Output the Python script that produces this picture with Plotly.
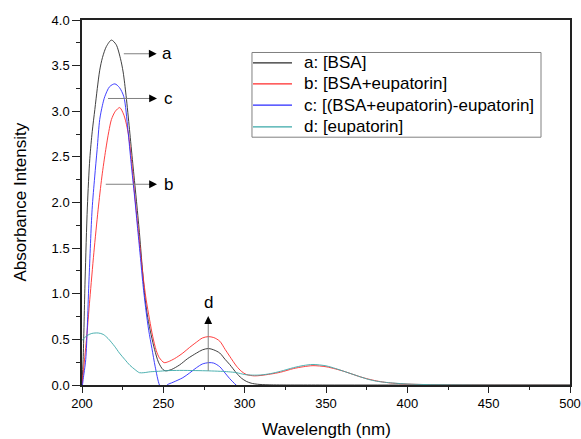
import plotly.graph_objects as go

# UV-Vis absorbance spectra (wavelength in nm, absorbance)
wl_a = [200, 200.7, 201.9, 203.3, 204.8, 206.3, 207.9, 209.4, 210.9, 212.6, 215, 218.1,
        221, 223.6, 225.3, 227.1, 229.2, 231.2, 233.3, 235.3, 236.9, 238.6, 240.4,
        242.5, 244.6, 247, 249.7, 251.5, 255, 260, 265, 270.4, 274, 277.7, 281, 284.7,
        288, 290.8, 295, 298, 301, 304, 308, 315, 350, 400, 450, 500]
abs_a = [0.02, 0.28, 1.15, 1.95, 2.48, 2.78, 3.02, 3.25, 3.45, 3.59, 3.71, 3.78,
         3.73, 3.58, 3.43, 3.17, 2.8, 2.43, 2.05, 1.67, 1.32, 0.98, 0.74,
         0.55, 0.39, 0.25, 0.17, 0.155, 0.17, 0.22, 0.29, 0.35, 0.385, 0.40, 0.385, 0.35,
         0.28, 0.225, 0.13, 0.075, 0.04, 0.02, 0.008, 0.002, 0.0, 0.0, 0.0, 0.0]

wl_b = [200, 202.7, 204.8, 207.3, 209.9, 212.2, 214.6, 216.5, 218.1, 220.5, 223.2, 225.5,
        227, 228.5, 230.5, 232.3, 234, 235.7, 237.5, 239.4, 241.5, 243.5, 245.6, 247.5,
        250.5, 253, 257, 262, 266, 270.4, 274, 277.6, 281, 284.7, 288, 290.8, 295, 298,
        301, 306, 310, 316, 322, 330, 336, 342, 350, 356, 361, 366, 371, 376, 381, 386,
        391, 400, 410, 430, 500]
abs_b = [0.0, 0.49, 0.94, 1.45, 1.92, 2.28, 2.58, 2.78, 2.91, 3.0, 3.04, 2.97,
         2.88, 2.75, 2.45, 2.1, 1.8, 1.5, 1.2, 0.94, 0.72, 0.53, 0.38, 0.3,
         0.245, 0.255, 0.29, 0.35, 0.41, 0.47, 0.515, 0.53, 0.52, 0.48, 0.39, 0.315, 0.206, 0.15,
         0.115, 0.1, 0.105, 0.12, 0.14, 0.18, 0.2, 0.212, 0.2, 0.175, 0.15, 0.12, 0.09, 0.065, 0.045, 0.03,
         0.02, 0.01, 0.005, 0.002, 0.0]

wl_c = [200, 200.7, 202.3, 204.3, 206.2, 207.8, 209.3, 210.9, 212.5, 214, 217, 220.2,
        223, 225.7, 228.2, 230.2, 232.3, 234, 235.8, 237.5, 239.3, 241, 243, 245, 247.6,
        250, 252.3, 256, 262, 266, 270.4, 274, 278, 281, 284.7, 288, 290.8, 294.7, 300,
        310, 400, 500]
abs_c = [-0.05, 0.06, 0.28, 1.15, 1.92, 2.28, 2.58, 2.91, 3.06, 3.16, 3.27, 3.30,
         3.26, 3.16, 2.80, 2.43, 2.07, 1.75, 1.42, 1.1, 0.82, 0.6, 0.4, 0.2, 0.0,
         -0.07, 0.0, 0.03, 0.08, 0.13, 0.19, 0.23, 0.245, 0.24, 0.2, 0.13, 0.07, 0.0, -0.08,
         -0.15, -0.15, -0.15]

wl_d = [200, 203, 206, 210, 213, 216, 220, 223, 226.3, 229.5, 232.5, 235.3, 238, 242,
        247, 252, 260, 270, 278, 285, 290, 295, 300, 305, 310, 316, 322, 330, 336, 342,
        350, 356, 361, 366, 371, 376, 381, 386, 391, 401, 415, 440, 500]
abs_d = [0.49, 0.54, 0.565, 0.57, 0.555, 0.51, 0.425, 0.35, 0.28, 0.215, 0.17, 0.135, 0.135, 0.145,
         0.15, 0.157, 0.16, 0.158, 0.155, 0.15, 0.145, 0.135, 0.115, 0.108, 0.11, 0.125, 0.15, 0.19, 0.213, 0.225,
         0.21, 0.18, 0.15, 0.12, 0.09, 0.062, 0.042, 0.03, 0.022, 0.01, 0.004, 0.001, 0.0]

names = ["a: [BSA]", "b: [BSA+eupatorin]", "c: [(BSA+eupatorin)-eupatorin]", "d: [eupatorin]"]
colors = ["#2a2a2a", "#ff2a2a", "#2a2aff", "#3aa8a8"]
series = [(wl_a, abs_a), (wl_b, abs_b), (wl_c, abs_c), (wl_d, abs_d)]

FONT = "Arial, Liberation Sans, sans-serif"

fig = go.Figure()
for (x, y), name, col in zip(series, names, colors):
    fig.add_trace(go.Scatter(
        x=x, y=y, name=name, mode="lines", showlegend=False,
        line=dict(color=col, width=0.9, shape="spline", smoothing=0.8),
    ))

# Pointer arrows: gray shaft with a black head, plus letter labels
arrows = [  # (x_tail, x_head, y, label, x_label)
    (225.7, 245.9, 3.63, "a", 252.2),
    (216.0, 246.1, 3.14, "c", 253.2),
    (214.6, 246.1, 2.20, "b", 253.2),
]
for xt, xh, yy, lab, xl in arrows:
    fig.add_shape(type="line", x0=xt, x1=xh - 4, y0=yy, y1=yy, xref="x", yref="y",
                  line=dict(color="#808080", width=1))
    fig.add_annotation(x=xh, y=yy, ax=-9, ay=0, xref="x", yref="y", text="",
                       showarrow=True, arrowhead=2, arrowsize=1.3, arrowwidth=1.2,
                       arrowcolor="#000000")
    fig.add_annotation(x=xl, y=yy, xref="x", yref="y", text=lab, showarrow=False,
                       xanchor="center", yanchor="middle",
                       font=dict(family=FONT, size=17, color="#000000"))

# vertical arrow marking curve d
fig.add_shape(type="line", x0=277.6, x1=277.6, y0=0.155, y1=0.70, xref="x", yref="y",
              line=dict(color="#808080", width=1))
fig.add_annotation(x=277.6, y=0.755, ax=0, ay=9, xref="x", yref="y", text="",
                   showarrow=True, arrowhead=2, arrowsize=1.3, arrowwidth=1.2,
                   arrowcolor="#000000")
fig.add_annotation(x=277.6, y=0.90, xref="x", yref="y", text="d", showarrow=False,
                   xanchor="center", yanchor="middle",
                   font=dict(family=FONT, size=17, color="#000000"))

# axis titles
fig.add_annotation(x=-0.127, y=0.5, xref="paper", yref="paper", text="Absorbance Intensity",
                   textangle=-90, showarrow=False, xanchor="center", yanchor="middle",
                   font=dict(family=FONT, size=17, color="#000000"))
fig.add_annotation(x=0.5, y=-0.122, xref="paper", yref="paper", text="Wavelength (nm)",
                   showarrow=False, xanchor="center", yanchor="middle",
                   font=dict(family=FONT, size=17, color="#000000"))

# Legend panel (paper coordinates)
LEG_X0, LEG_X1, LEG_Y0, LEG_Y1 = 0.3483, 0.9406, 0.6789, 0.9110
fig.add_shape(type="rect", xref="paper", yref="paper",
              x0=LEG_X0, x1=LEG_X1, y0=LEG_Y0, y1=LEG_Y1,
              line=dict(color="#808080", width=1), fillcolor="#ffffff", layer="above")
row_y = [0.8827, 0.8252, 0.7666, 0.7074]
for name, col, ry in zip(names, colors, row_y):
    fig.add_shape(type="line", xref="paper", yref="paper",
                  x0=0.3504, x1=0.4303, y0=ry, y1=ry,
                  line=dict(color=col, width=1.2), layer="above")
    fig.add_annotation(x=0.4508, y=ry, xref="paper", yref="paper", text=name,
                       showarrow=False, xanchor="left", yanchor="middle",
                       font=dict(family=FONT, size=17, color="#000000"))

axis_common = dict(
    showline=True, linecolor="#222222", linewidth=1.5, mirror=True, automargin=False,
    showgrid=False, zeroline=False, ticks="outside", tickcolor="#222222",
    tickfont=dict(family=FONT, size=13, color="#000000"),
)

fig.update_xaxes(
    range=[200, 500], dtick=50, tick0=200, ticklen=6, tickwidth=1.2,
    minor=dict(dtick=25, ticks="outside", ticklen=3, tickcolor="#222222"),
    **axis_common,
)
fig.update_yaxes(
    range=[0, 4], dtick=0.5, tick0=0, tickformat=".1f", ticklen=8, tickwidth=1.2,
    minor=dict(dtick=0.25, ticks="outside", ticklen=4, tickcolor="#222222"),
    **axis_common,
)

fig.update_layout(
    width=581, height=439,
    margin=dict(l=82, r=11, t=20, b=54),
    paper_bgcolor="#ffffff", plot_bgcolor="#ffffff",
    font=dict(family=FONT, color="#000000"),
    showlegend=False,
)

fig.write_html("out.html")
